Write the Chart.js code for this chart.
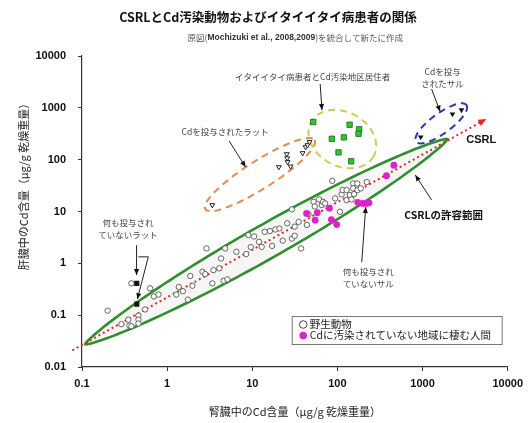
<!DOCTYPE html>
<html>
<head>
<meta charset="utf-8">
<script src="https://cdn.jsdelivr.net/npm/chart.js@4/dist/chart.umd.min.js"></script>
<style>
  html, body { margin: 0; padding: 0; background: #fff; }
  #wrap { width: 529px; height: 423px; }
</style>
</head>
<body>
<div id="wrap"><canvas id="c" width="529" height="423"></canvas></div>
<script>
// Cd content, µg/g dry weight: kidney on x, liver on y (log–log)
const tickValues = [0.01, 0.1, 1, 10, 100, 1000, 10000];
const tickLabels = ['0.01', '0.1', '1', '10', '100', '1000', '10000'];

// 野生動物
const wildKidney = [0.20, 0.29, 0.35, 0.36, 0.38, 0.46, 0.46, 0.46, 0.38, 0.55, 0.63, 0.70, 0.79,
  1.28, 1.37, 1.53, 1.75, 1.87, 1.98, 2.6, 2.8, 2.9, 3.4, 3.5, 4.3, 4.1, 4.6, 4.8, 5.1, 6.5, 8.5,
  9.0, 9.6, 10.5, 12.0, 12.9, 14.0, 16.1, 17.1, 18.7, 20.8, 22.8, 25.7, 29.2, 31.5, 29.2, 37.4,
  35.0, 43.8, 45.8, 52.4, 54.2, 61, 65.5, 67.6, 71.6, 87, 94, 107, 112, 115, 128, 128, 140, 146,
  153, 153, 157, 171, 172, 188, 221, 31.5];
const wildLiver = [0.122, 0.067, 0.082, 0.063, 0.061, 0.098, 0.082, 0.069, 0.41, 0.129, 0.33, 0.23, 0.25,
  0.25, 0.35, 0.29, 0.20, 0.57, 0.37, 0.69, 0.62, 1.94, 0.41, 0.74, 1.24, 0.80, 0.46, 1.94, 0.49, 1.67, 1.51,
  3.5, 2.06, 3.3, 2.6, 2.08, 4.05, 4.2, 2.17, 4.5, 4.7, 2.74, 5.9, 3.0, 5.1, 11.0, 1.94,
  6.3, 5.5, 8.9, 15.4, 12.5, 17.1, 13.3, 15.4, 14.3, 39, 17.9, 9.9, 21.4, 25.9, 25.9, 16.6, 20.7, 17.1,
  34.8, 27.9, 21.7, 34.8, 25.9, 27.9, 37, 3.4];

// Cdに汚染されていない地域に棲む人間
const humanKidney = [460, 377, 80.5, 58, 43.4, 54.8, 85, 98, 173, 198, 220, 235];
const humanLiver = [78, 49, 11.6, 9.5, 9.2, 6.8, 7.0, 5.6, 15.0, 14.3, 14.3, 14.7];

// イタイイタイ病患者とCd汚染地区居住者
const itaiKidney = [52, 139, 180, 177, 86, 119, 103, 145];
const itaiLiver = [532, 472, 385, 316, 253, 269, 138, 93];

// Cdを投与されたラット
const ratDosedKidney = [3.39, 20.5, 25.4, 25.7, 26, 28.2, 39, 42.3, 44.6, 47];
const ratDosedLiver = [13.3, 72, 128, 107, 90, 74, 134, 175, 191, 219];

// 何も投与されていないラット
const ratControlKidney = [0.44, 0.44];
const ratControlLiver = [0.41, 0.163];

// Cdを投与されたサル
const monkeyDosedKidney = [951, 2244, 2865];
const monkeyDosedLiver = [273, 759, 908];

// CSRL line ends
const csrlKidney = [0.077, 5600];
const csrlLiver = [0.021, 610];

const pts = (xs, ys) => xs.map((v, i) => ({ x: v, y: ys[i] }));

const CJK = '"Noto Sans CJK JP", "Noto Sans", sans-serif';
const LAT = '"Liberation Sans", Arial, sans-serif';

// Enclosing regions: major-axis ends in data units, half width in px, shape exponent
const regions = [
  { from: [0.109, 0.0275], to: [1963, 250], half: 17, shape: 1.4, stroke: '#2f8f2f', width: 2.6, dash: [], fill: 'rgba(0,0,0,0.035)' },
  { from: [2.81, 11.1], to: [53.8, 239], half: 14, shape: 1, stroke: '#e8894a', width: 2, dash: [7, 5] },
  { from: [49.1, 532], to: [266, 117], half: 27, shape: 1, stroke: '#cccc55', width: 2, dash: [7, 5] },
  { from: [838, 222], to: [3273, 1133], half: 10, shape: 1, stroke: '#2a3aaa', width: 2, dash: [7, 5] }
];

// Leader arrows (data units), head on the last point
const arrows = [
  [[62.7, 2878], [65.8, 908]],
  [[1276, 2307], [1607, 849]],
  [[5.35, 229], [8.34, 72]],
  [[1279, 16.6], [822, 50.5]],
  [[193, 1.055], [215, 12.2]],
  [[0.4375, 2.24], [0.4375, 0.597]],
  [[0.459, 1.335], [0.601, 1.335], [0.447, 0.204]]
];

const notes = [
  { lines: ['イタイイタイ病患者とCd汚染地区居住者'], at: [51.1, 4018], size: 8.5, weight: 'normal', color: '#444' },
  { lines: ['Cdを投与', 'されたサル'], at: [1718, 3758], size: 8.5, weight: 'normal', color: '#444' },
  { lines: ['CSRL'], at: [4887, 244], size: 11, weight: 'bold', color: '#111', family: LAT },
  { lines: ['Cdを投与されたラット'], at: [4.81, 348], size: 8.5, weight: 'normal', color: '#444' },
  { lines: ['CSRLの許容範囲'], at: [1766, 8.53], size: 10.5, weight: 'bold', color: '#111' },
  { lines: ['何も投与され', 'ていないサル'], at: [230, 0.518], size: 8.5, weight: 'normal', color: '#444' },
  { lines: ['何も投与され', 'ていないラット'], at: [0.347, 4.57], size: 8.5, weight: 'normal', color: '#444' }
];

function regionPath(ctx, xs, ys, r) {
  const x1 = xs.getPixelForValue(r.from[0]), y1 = ys.getPixelForValue(r.from[1]);
  const x2 = xs.getPixelForValue(r.to[0]), y2 = ys.getPixelForValue(r.to[1]);
  const cx = (x1 + x2) / 2, cy = (y1 + y2) / 2;
  const a = Math.hypot(x2 - x1, y2 - y1) / 2, ang = Math.atan2(y2 - y1, x2 - x1);
  const ca = Math.cos(ang), sa = Math.sin(ang);
  ctx.beginPath();
  const N = 180;
  for (let i = 0; i <= N; i++) {
    const t = i / N * Math.PI * 2, c = Math.cos(t), s = Math.sin(t);
    const px = a * c, py = r.half * Math.sign(s) * Math.pow(Math.abs(s), r.shape);
    const X = cx + px * ca - py * sa, Y = cy + px * sa + py * ca;
    if (i === 0) ctx.moveTo(X, Y); else ctx.lineTo(X, Y);
  }
  ctx.closePath();
}

function arrowHead(ctx, x0, y0, x1, y1, len, hw, color) {
  const ang = Math.atan2(y1 - y0, x1 - x0);
  ctx.save();
  ctx.translate(x1, y1);
  ctx.rotate(ang);
  ctx.beginPath();
  ctx.moveTo(0, 0);
  ctx.lineTo(-len, -hw);
  ctx.lineTo(-len, hw);
  ctx.closePath();
  ctx.fillStyle = color;
  ctx.fill();
  ctx.restore();
}

const overlay = {
  id: 'overlay',
  beforeDatasetsDraw(chart) {
    const { ctx, scales: { x, y } } = chart;
    regions.forEach(r => {
      ctx.save();
      regionPath(ctx, x, y, r);
      if (r.fill) { ctx.fillStyle = r.fill; ctx.fill(); }
      ctx.setLineDash(r.dash);
      ctx.lineWidth = r.width;
      ctx.strokeStyle = r.stroke;
      ctx.stroke();
      ctx.restore();
    });
  },
  afterDatasetsDraw(chart) {
    const { ctx, scales: { x, y } } = chart;
    // CSRL arrow tip
    const cx0 = x.getPixelForValue(csrlKidney[0]), cy0 = y.getPixelForValue(csrlLiver[0]);
    const cx1 = x.getPixelForValue(csrlKidney[1]), cy1 = y.getPixelForValue(csrlLiver[1]);
    arrowHead(ctx, cx0, cy0, cx1, cy1, 8, 3.5, '#e02828');

    arrows.forEach(a => {
      const p = a.map(q => [x.getPixelForValue(q[0]), y.getPixelForValue(q[1])]);
      ctx.save();
      ctx.strokeStyle = '#222';
      ctx.lineWidth = 1;
      ctx.beginPath();
      p.forEach((q, i) => i ? ctx.lineTo(q[0], q[1]) : ctx.moveTo(q[0], q[1]));
      ctx.stroke();
      const n = p.length;
      arrowHead(ctx, p[n - 2][0], p[n - 2][1], p[n - 1][0], p[n - 1][1], 6, 2.6, '#111');
      ctx.restore();
    });

    notes.forEach(nt => {
      const px = x.getPixelForValue(nt.at[0]), py = y.getPixelForValue(nt.at[1]);
      const lh = nt.size * 1.4;
      ctx.save();
      ctx.font = `${nt.weight} ${nt.size}px ${nt.family || CJK}`;
      ctx.fillStyle = nt.color;
      ctx.textAlign = 'center';
      ctx.textBaseline = 'middle';
      const top = py - (nt.lines.length - 1) * lh / 2;
      nt.lines.forEach((s, i) => ctx.fillText(s, px, top + i * lh));
      ctx.restore();
    });
  },
  afterDraw(chart) {
    const { ctx, chartArea: ca } = chart;
    ctx.save();
    ctx.textBaseline = 'middle';
    // title
    ctx.fillStyle = '#111';
    ctx.textAlign = 'center';
    ctx.font = `bold 12.5px ${CJK}`;
    ctx.fillText('CSRLとCd汚染動物およびイタイイタイ病患者の関係', 268, 17);

    // source line, right aligned
    const parts = [
      { s: '原図(', f: `normal 8.5px ${CJK}`, c: '#555' },
      { s: 'Mochizuki et al., 2008,2009', f: `bold 8.5px ${LAT}`, c: '#333' },
      { s: ')を統合して新たに作成', f: `normal 8.5px ${CJK}`, c: '#555' }
    ];
    let total = 0;
    parts.forEach(p => { ctx.font = p.f; p.w = ctx.measureText(p.s).width; total += p.w; });
    let sx = 403 - total;
    ctx.textAlign = 'left';
    parts.forEach(p => { ctx.font = p.f; ctx.fillStyle = p.c; ctx.fillText(p.s, sx, 38); sx += p.w; });

    // axis titles
    ctx.fillStyle = '#222';
    ctx.textAlign = 'center';
    ctx.font = `normal 11px ${CJK}`;
    ctx.fillText('腎臓中のCd含量（μg/g 乾燥重量）', (ca.left + ca.right) / 2, 412);
    ctx.save();
    ctx.translate(24, 184);
    ctx.rotate(-Math.PI / 2);
    ctx.fillText('肝臓中のCd含量（μg/g 乾燥重量）', 0, 0);
    ctx.restore();

    // legend box
    const lx = ca.right - 216, ly = ca.bottom - 51, lw = 210, lhh = 28;
    ctx.fillStyle = '#fff';
    ctx.fillRect(lx, ly, lw, lhh);
    ctx.strokeStyle = '#777';
    ctx.lineWidth = 1;
    ctx.strokeRect(lx + 0.5, ly + 0.5, lw, lhh);
    const ds = chart.data.datasets;
    const rows = [ds[1], ds[2]];
    rows.forEach((d, i) => {
      const ry = ly + 8.5 + i * 11;
      ctx.beginPath();
      ctx.arc(lx + 11.5, ry, 3.8, 0, Math.PI * 2);
      if (d.pointBackgroundColor !== '#fff') { ctx.fillStyle = d.pointBackgroundColor; ctx.fill(); }
      else { ctx.lineWidth = 1; ctx.strokeStyle = '#444'; ctx.stroke(); }
      ctx.fillStyle = '#222';
      ctx.textAlign = 'left';
      ctx.font = `normal 10.5px ${CJK}`;
      ctx.fillText(d.label, lx + 18, ry);
    });
    ctx.restore();
  }
};

const tickLabel = v => {
  const i = tickValues.findIndex(t => Math.abs(Math.log10(t) - Math.log10(v)) < 1e-6);
  return i >= 0 ? tickLabels[i] : '';
};

new Chart(document.getElementById('c'), {
  data: {
    datasets: [
      { type: 'line', label: 'CSRL', data: pts(csrlKidney, csrlLiver), borderColor: '#e02828',
        borderWidth: 2, borderDash: [2, 3], pointRadius: 0, clip: false, order: 10 },
      { type: 'scatter', label: '野生動物', data: pts(wildKidney, wildLiver), pointStyle: 'circle',
        pointRadius: 2.7, pointBorderWidth: 0.9, pointBorderColor: '#555', pointBackgroundColor: '#fff', order: 6 },
      { type: 'scatter', label: 'Cdに汚染されていない地域に棲む人間', data: pts(humanKidney, humanLiver),
        pointStyle: 'circle', pointRadius: 3.4, pointBorderWidth: 0, pointBorderColor: '#dd22cc', pointBackgroundColor: '#dd22cc', order: 5 },
      { type: 'scatter', label: 'イタイイタイ病患者とCd汚染地区居住者', data: pts(itaiKidney, itaiLiver),
        pointStyle: 'rect', pointRadius: 3.8, pointBorderWidth: 0.8, pointBorderColor: '#146614', pointBackgroundColor: '#2ec82e', order: 2 },
      { type: 'scatter', label: 'Cdを投与されたラット', data: pts(ratDosedKidney, ratDosedLiver),
        pointStyle: 'triangle', rotation: 180, pointRadius: 2.8, pointBorderWidth: 1, pointBorderColor: '#222', pointBackgroundColor: '#fff', order: 3 },
      { type: 'scatter', label: '何も投与されていないラット', data: pts(ratControlKidney, ratControlLiver),
        pointStyle: 'rect', pointRadius: 3.6, pointBorderWidth: 0, pointBorderColor: '#111', pointBackgroundColor: '#111', order: 1 },
      { type: 'scatter', label: 'Cdを投与されたサル', data: pts(monkeyDosedKidney, monkeyDosedLiver),
        pointStyle: 'triangle', rotation: 180, pointRadius: 3.3, pointBorderWidth: 0, pointBorderColor: '#111', pointBackgroundColor: '#111', order: 1 }
    ]
  },
  options: {
    responsive: false,
    animation: false,
    devicePixelRatio: 1,
    layout: { padding: { left: 0, top: 56, right: 18, bottom: 0 } },
    plugins: { legend: { display: false }, tooltip: { enabled: false }, title: { display: false } },
    scales: {
      x: {
        type: 'logarithmic', min: 0.1, max: 10000,
        afterBuildTicks: s => { s.ticks = tickValues.filter(v => v >= 0.1).map(v => ({ value: v })); },
        afterFit: s => { s.height = 56; },
        ticks: { callback: v => tickLabel(v), autoSkip: false, maxRotation: 0, padding: 6,
          color: '#111', font: { family: LAT, weight: 'bold', size: 11 } },
        grid: { drawOnChartArea: false, drawTicks: true, tickLength: 4, color: '#333' },
        border: { display: true, color: '#333', width: 1.2 }
      },
      y: {
        type: 'logarithmic', min: 0.01, max: 10000,
        afterBuildTicks: s => { s.ticks = tickValues.map(v => ({ value: v })); },
        afterFit: s => { s.width = 82; },
        ticks: { callback: v => tickLabel(v), autoSkip: false, padding: 12,
          color: '#111', font: { family: LAT, weight: 'bold', size: 11 } },
        grid: { drawOnChartArea: false, drawTicks: true, tickLength: 4, color: '#333' },
        border: { display: true, color: '#333', width: 1.2 }
      }
    }
  },
  plugins: [overlay]
});
</script>
</body>
</html>
